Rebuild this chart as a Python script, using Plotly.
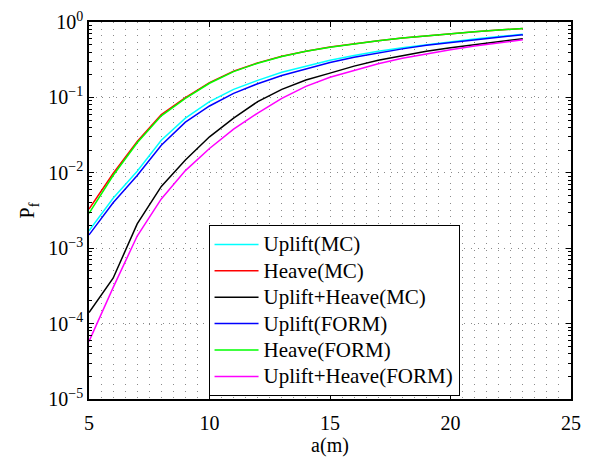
import plotly.graph_objects as go

# Crack length a (m)
a_m = [5, 6, 7, 8, 9, 10, 11, 12, 13, 14, 15, 16, 17, 18, 19, 20, 21, 22, 23]

# Probability of failure for each mechanism / method
uplift_mc = [0.0017, 0.0046, 0.0105, 0.027, 0.053, 0.088, 0.128, 0.168, 0.215, 0.26,
             0.31, 0.36, 0.41, 0.455, 0.50, 0.55, 0.595, 0.64, 0.69]
heave_mc = [0.0033, 0.0098, 0.026, 0.059, 0.099, 0.157, 0.223, 0.287, 0.352, 0.41,
            0.465, 0.515, 0.565, 0.615, 0.66, 0.70, 0.745, 0.785, 0.82]
uplift_heave_mc = [0.00014, 0.00040, 0.0021, 0.0066, 0.0148, 0.030, 0.053, 0.088, 0.128, 0.17,
                   0.21, 0.26, 0.31, 0.36, 0.41, 0.455, 0.50, 0.55, 0.60]
uplift_form = [0.0015, 0.0040, 0.0092, 0.0232, 0.047, 0.077, 0.113, 0.152, 0.195, 0.24,
               0.29, 0.34, 0.39, 0.44, 0.49, 0.535, 0.58, 0.63, 0.68]
heave_form = [0.0029, 0.0092, 0.025, 0.057, 0.097, 0.154, 0.220, 0.284, 0.349, 0.408,
              0.462, 0.513, 0.563, 0.612, 0.657, 0.70, 0.742, 0.782, 0.818]
uplift_heave_form = [0.000058, 0.00030, 0.00145, 0.0045, 0.0107, 0.021, 0.038, 0.062, 0.097, 0.14,
                     0.185, 0.23, 0.28, 0.33, 0.38, 0.43, 0.48, 0.53, 0.58]

series_names = ["Uplift(MC)", "Heave(MC)", "Uplift+Heave(MC)",
                "Uplift(FORM)", "Heave(FORM)", "Uplift+Heave(FORM)"]
series_values = [uplift_mc, heave_mc, uplift_heave_mc,
                 uplift_form, heave_form, uplift_heave_form]
series_colors = ["#00FFFF", "#FF0000", "#000000", "#0000FF", "#00FF00", "#FF00FF"]

y_tick_vals = [1e-5, 1e-4, 1e-3, 1e-2, 1e-1, 1e0]
y_tick_text = ["10<sup>−5</sup>", "10<sup>−4</sup>", "10<sup>−3</sup>",
               "10<sup>−2</sup>", "10<sup>−1</sup>", "10<sup>0</sup>"]
y_minor_vals = [k * 10.0 ** e for e in range(-5, 0) for k in range(2, 10)]

FONT = "Liberation Serif, Times New Roman, serif"
GRID_DASH = "1px,5.7px"
GRID_COLOR = "#8a8a8a"

fig = go.Figure()
for name, vals, color in zip(series_names, series_values, series_colors):
    # legend rows are spaced by the legend font size; entry text is drawn a bit larger
    label = f'<span style="font-size:21px">{name}</span>'
    fig.add_trace(go.Scatter(x=a_m, y=vals, mode="lines", name=label,
                             line=dict(color=color, width=1.5)))

fig.update_layout(
    width=590, height=459,
    margin=dict(l=89, r=9, t=18, b=53),
    paper_bgcolor="white", plot_bgcolor="white",
    font=dict(family=FONT, size=20, color="black"),
    showlegend=True,
    legend=dict(x=0.248, y=0.461, xanchor="left", yanchor="top",
                bgcolor="white", bordercolor="black", borderwidth=1,
                font=dict(family=FONT, size=18, color="black"),
                itemwidth=44, tracegroupgap=0),
)

fig.update_xaxes(
    range=[5, 25], dtick=5, tick0=5,
    showline=True, linecolor="black", linewidth=1.5, mirror="allticks",
    ticks="inside", ticklen=5, tickcolor="black", tickwidth=1,
    showgrid=True, gridcolor=GRID_COLOR, gridwidth=1, griddash=GRID_DASH,
    minor=dict(dtick=0.5, showgrid=True, gridcolor=GRID_COLOR, gridwidth=1,
               griddash=GRID_DASH, ticks=""),
    zeroline=False,
    title=dict(text="a(m)", standoff=2, font=dict(size=20)),
    tickfont=dict(size=20),
    ticklabelstandoff=5,
)

fig.update_yaxes(
    type="log", range=[-5, 0],
    tickvals=y_tick_vals, ticktext=y_tick_text,
    showline=True, linecolor="black", linewidth=1.5, mirror="allticks",
    ticks="inside", ticklen=5, tickcolor="black", tickwidth=1,
    showgrid=True, gridcolor=GRID_COLOR, gridwidth=1, griddash=GRID_DASH,
    minor=dict(tickvals=y_minor_vals, ticks="inside", ticklen=3,
               tickcolor="black", showgrid=False),
    zeroline=False,
    title=dict(text="P<sub>f</sub>", standoff=8, font=dict(size=20)),
    tickfont=dict(size=20),
)

fig.write_html("out.html")
